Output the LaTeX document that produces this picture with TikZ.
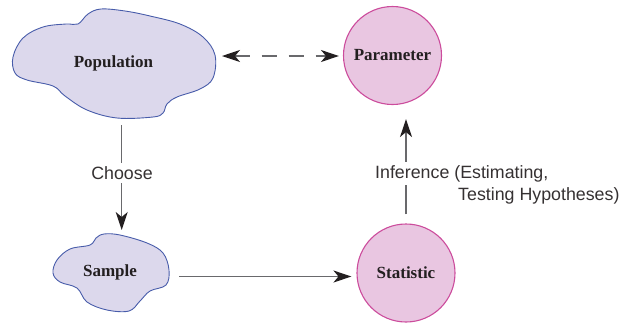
\documentclass[tikz,border=0pt]{standalone}
\usepackage{fontspec}
\setmainfont{Liberation Serif}
\newfontfamily\labelfont{Liberation Sans}
\usetikzlibrary{arrows.meta}
\definecolor{blobfill}{RGB}{220,216,236}
\definecolor{blobline}{RGB}{72,92,170}
\definecolor{circfill}{RGB}{233,198,225}
\definecolor{circline}{RGB}{204,76,156}
\definecolor{linegray}{RGB}{105,105,108}
\definecolor{tipdark}{RGB}{35,31,32}
\definecolor{textdark}{RGB}{35,31,32}
\tikzset{
  blob/.style={fill=blobfill, draw=blobline, line width=0.9pt},
  blobtext/.style={font=\fontsize{17}{20}\selectfont\bfseries, text=textdark, inner sep=0pt},
  circnode/.style={circle, fill=circfill, draw=circline, line width=1.1pt, minimum size=98pt, inner sep=0pt,
    font=\fontsize{17}{20}\selectfont\bfseries, text=textdark},
  conn/.style={draw=linegray, line width=1.2pt, -{Stealth[length=18pt,width=12pt,inset=5pt,color=tipdark]}},
  dconn/.style={draw=linegray, line width=1.2pt, dash pattern=on 15pt off 12pt,
    {Stealth[length=18pt,width=12pt,inset=5pt,color=tipdark]}-{Stealth[length=18pt,width=12pt,inset=5pt,color=tipdark]}},
  lbl/.style={font=\labelfont\fontsize{17.8}{20}\selectfont, text=textdark!92!white}
}
\begin{document}
\begin{tikzpicture}[x=1pt,y=-1pt]
\useasboundingbox (0,0) rectangle (625,322);
% Population blob
\draw[blob] plot[smooth cycle, tension=0.6] coordinates {
  (78,24) (88,14) (101,9) (125,11) (150,16) (180,24) (203,37) (215,55) (213,78) (200,89)
  (177,97) (167,104) (163,113) (153,117) (117,118) (87,110) (65,96) (53,86) (27,80)
  (15,73) (13,57) (23,38) (43,27) (66,24)};
% Sample blob
\draw[blob] plot[smooth cycle, tension=0.6] coordinates {
  (53,273) (57,260) (70,249) (90,245) (96,238) (104,234) (120,235) (147,243) (163,253)
  (169,270) (166,285) (150,291) (140,301) (129,311) (107,310) (87,302) (77,288) (60,282)};
\node[blobtext] (pop) at (113.5,63) {Population};
\node[blobtext] (samp) at (110,272) {Sample};
\node[circnode] (param) at (392.5,55.5) {Parameter};
\node[circnode] (stat) at (406,273) {Statistic};
% boundary points of the blobs
\coordinate (popE) at (217,56);
\coordinate (popB) at (121.7,118);
\coordinate (sampT) at (121.7,235);
\coordinate (sampE) at (169,276.5);
% connectors
\draw[dconn, shorten <=5pt, shorten >=4pt] (popE) -- (param.west |- popE);
\draw[conn, shorten <=7pt, shorten >=5pt] (popB) -- (sampT);
\draw[conn, shorten <=10pt, shorten >=5pt] (sampE) -- (stat.west |- sampE);
\draw[conn, shorten <=9pt, shorten >=14pt] (stat.north) -- (stat.north |- param.south);
% labels
\node[lbl, fill=white, inner sep=3pt] (choose) at (122,173) {Choose};
\node[lbl, fill=white, inner sep=3pt, anchor=base west] (inf1) at (372,178) {Inference (Estimating,};
\node[lbl, anchor=base east] (inf2) at (623,200) {Testing Hypotheses)};
\end{tikzpicture}
\end{document}
